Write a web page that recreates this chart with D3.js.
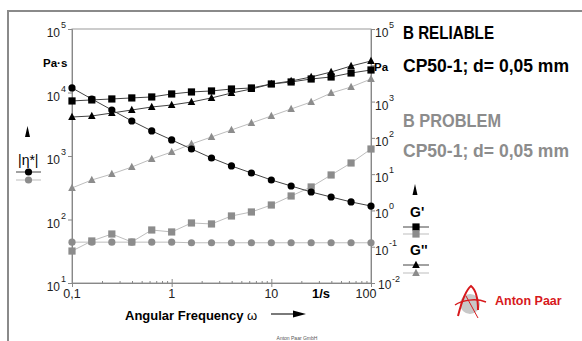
<!DOCTYPE html>
<html>
<head>
<meta charset="utf-8">
<script src="https://cdn.jsdelivr.net/npm/d3@7"></script>
<style>
  body { margin: 0; background: #fff; }
  svg { display: block; }
  text { font-family: "Liberation Sans", Arial, sans-serif; }
</style>
</head>
<body>
<div id="chart"></div>
<script>
// angular frequency, 1/s (5 points per decade)
const freq = [0.1, 0.158, 0.251, 0.398, 0.631, 1, 1.58, 2.51, 3.98, 6.31, 10, 15.8, 25.1, 39.8, 63.1, 100];

// |eta*| in Pa·s (left axis)
const etaReliable = [11800, 7900, 5300, 3560, 2480, 1790, 1290, 930, 697, 540, 419, 337, 271, 226, 189, 163];
const etaProblem  = [44, 44, 44, 44, 44, 44, 43, 43, 43, 43, 43, 43, 43, 43, 43, 43];

// G' and G'' in Pa (right axis)
const gPrimeReliable  = [1040, 1110, 1180, 1260, 1340, 1620, 1840, 1960, 2220, 2370, 3050, 3470, 4190, 4760, 6130, 7420];
const gDoubleReliable = [376, 401, 484, 586, 709, 805, 973, 1260, 1720, 2220, 3050, 3690, 4760, 6530, 9550, 13100];
const gPrimeProblem   = [0.076, 0.144, 0.224, 0.135, 0.289, 0.255, 0.451, 0.424, 0.703, 0.906, 1.41, 2.5, 4.43, 9.48, 20.3, 49.3];
const gDoubleProblem  = [4.16, 6.9, 10.1, 15.7, 26.2, 40.8, 67.8, 106, 165, 257, 401, 625, 973, 1720, 2520, 4190];

// tick labels
const xTicks = [0.1, 1, 10, 100];
const xTickLabels = ["0,1", "1", "10", "100"];
const leftExp = [1, 2, 3, 4, 5];
const rightExp = [-2, -1, 0, 1, 2, 3, 5];

const W = 582, H = 341;
const pLeft = 72, pRight = 371, pTop = 29, pBottom = 283;
const black = "#000", lineDark = "#444", gray = "#8c8c8c", lineGray = "#bdbdbd";

const svg = d3.select("#chart").append("svg").attr("width", W).attr("height", H);

// outer frame
svg.append("line").attr("x1", 8).attr("x2", W).attr("y1", 11).attr("y2", 11)
  .attr("stroke", "#8a8a8a").attr("stroke-width", 2);
svg.append("line").attr("x1", 8).attr("x2", 8).attr("y1", 10).attr("y2", H)
  .attr("stroke", "#8a8a8a").attr("stroke-width", 2);

const x = d3.scaleLog().domain([0.1, 100]).range([pLeft, pRight]);
const yL = d3.scaleLog().domain([10, 1e5]).range([pBottom, pTop]);
const yR = d3.scaleLog().domain([0.01, 1e5]).range([pBottom, pTop]);

// plot box
svg.append("rect").attr("x", pLeft).attr("y", pTop)
  .attr("width", pRight - pLeft).attr("height", pBottom - pTop)
  .attr("fill", "none").attr("stroke", "#999");

// axes
const xMinor = [];
for (let d = 0.1; d < 99; d *= 10) for (let k = 2; k <= 9; k++) xMinor.push(d * k);

svg.append("g").attr("transform", `translate(0,${pBottom})`)
  .call(d3.axisBottom(x).tickValues(xMinor).tickSize(-2).tickFormat(""))
  .call(g => g.select(".domain").attr("stroke", "#888"))
  .call(g => g.selectAll("line").attr("stroke", "#888"));
svg.append("g").attr("transform", `translate(0,${pBottom - 4})`)
  .call(d3.axisBottom(x).tickValues(xTicks).tickSize(8).tickFormat(""))
  .call(g => g.select(".domain").remove())
  .call(g => g.selectAll("line").attr("stroke", "#888"));

svg.append("g").attr("transform", `translate(${pLeft},0)`)
  .call(d3.axisLeft(yL).tickValues(leftExp.map(e => Math.pow(10, e))).tickSize(4).tickFormat(""))
  .call(g => g.select(".domain").attr("stroke", "#888"))
  .call(g => g.selectAll("line").attr("stroke", "#888"));
svg.append("g").attr("transform", `translate(${pRight},0)`)
  .call(d3.axisRight(yR).tickValues(d3.range(-2, 6).map(e => Math.pow(10, e))).tickSize(4).tickFormat(""))
  .call(g => g.select(".domain").attr("stroke", "#888"))
  .call(g => g.selectAll("line").attr("stroke", "#888"));

// tick labels
const lab = svg.append("g").attr("fill", "#222");
xTicks.forEach((v, i) => {
  lab.append("text").attr("x", i === 3 ? x(v) - 5 : x(v)).attr("y", 298).attr("text-anchor", "middle")
    .attr("font-size", 12.5).text(xTickLabels[i]);
});
leftExp.forEach(e => {
  const yy = yL(Math.pow(10, e));
  lab.append("text").attr("x", 60).attr("y", yy + 8).attr("text-anchor", "end")
    .attr("font-size", 12).text("10");
  lab.append("text").attr("x", 61).attr("y", yy - 1).attr("font-size", 9).text(e);
});
rightExp.forEach(e => {
  const yy = yR(Math.pow(10, e));
  const bx = e === -2 ? 378 : 375;
  lab.append("text").attr("x", bx).attr("y", e === -2 ? yy + 6 : yy + 8).attr("font-size", 12).text("10");
  lab.append("text").attr("x", bx + 14).attr("y", yy - 1).attr("font-size", 9).text(e);
});

// unit labels
svg.append("text").attr("x", 43).attr("y", 67).attr("font-size", 11.5).attr("font-weight", "bold").text("Pa·s");
svg.append("text").attr("x", 374).attr("y", 71).attr("font-size", 11.5).attr("font-weight", "bold").text("Pa");
svg.append("text").attr("x", 321).attr("y", 298).attr("text-anchor", "middle")
  .attr("font-size", 13).attr("font-weight", "bold").text("1/s");
svg.append("text").attr("x", 125).attr("y", 320).attr("font-size", 13).attr("font-weight", "bold")
  .text("Angular Frequency ")
  .append("tspan").attr("font-weight", "normal").text("ω");
svg.append("line").attr("x1", 271).attr("x2", 294).attr("y1", 314).attr("y2", 314)
  .attr("stroke", "#222").attr("stroke-width", 1.2);
svg.append("path").attr("d", "M293,310.5L306,314L293,317.5Z").attr("fill", "#000");

// markers
function marker(g, shape, cx, cy, color) {
  if (shape === "circle") {
    g.append("circle").attr("cx", cx).attr("cy", cy).attr("r", 3.6).attr("fill", color);
  } else if (shape === "square") {
    g.append("rect").attr("x", cx - 3.6).attr("y", cy - 3.6).attr("width", 7.2).attr("height", 7.2).attr("fill", color);
  } else {
    g.append("path").attr("d", `M${cx},${cy - 4.3}L${cx + 3.8},${cy + 3}L${cx - 3.8},${cy + 3}Z`).attr("fill", color);
  }
}

const series = [
  { vals: gPrimeProblem, y: yR, shape: "square", color: gray, line: lineGray },
  { vals: gDoubleProblem, y: yR, shape: "triangle", color: gray, line: lineGray },
  { vals: etaProblem, y: yL, shape: "circle", color: gray, line: lineGray },
  { vals: etaReliable, y: yL, shape: "circle", color: black, line: lineDark },
  { vals: gDoubleReliable, y: yR, shape: "triangle", color: black, line: lineDark },
  { vals: gPrimeReliable, y: yR, shape: "square", color: black, line: lineDark }
];

series.forEach(s => {
  const g = svg.append("g");
  const line = d3.line().x((d, i) => x(freq[i])).y(d => s.y(d));
  g.append("path").datum(s.vals).attr("d", line).attr("fill", "none")
    .attr("stroke", s.line).attr("stroke-width", 1);
  s.vals.forEach((v, i) => marker(g, s.shape, x(freq[i]), s.y(v), s.color));
});

// left legend
const arrowUp = (cx, cy) => `M${cx - 2.5},${cy + 5}L${cx},${cy - 6}L${cx + 2.5},${cy + 5}Z`;
svg.append("path").attr("d", arrowUp(27.5, 132)).attr("fill", "#000");
svg.append("text").attr("x", 18).attr("y", 165).attr("font-size", 14).text("|η*|");
[[172, black, lineDark], [180, gray, lineGray]].forEach(([yy, c, lc]) => {
  svg.append("line").attr("x1", 16).attr("x2", 41).attr("y1", yy).attr("y2", yy).attr("stroke", lc);
  marker(svg, "circle", 28.5, yy, c);
});

// right legend
svg.append("path").attr("d", arrowUp(415, 190)).attr("fill", "#000");
svg.append("text").attr("x", 410).attr("y", 217).attr("font-size", 14).attr("font-weight", "bold").text("G'");
[[227, black, lineDark], [234, gray, lineGray]].forEach(([yy, c, lc]) => {
  svg.append("line").attr("x1", 403).attr("x2", 429).attr("y1", yy).attr("y2", yy).attr("stroke", lc);
  marker(svg, "square", 416, yy, c);
});
svg.append("text").attr("x", 410).attr("y", 255).attr("font-size", 14).attr("font-weight", "bold").text("G''");
[[265, black, lineDark], [273, gray, lineGray]].forEach(([yy, c, lc]) => {
  svg.append("line").attr("x1", 403).attr("x2", 429).attr("y1", yy).attr("y2", yy).attr("stroke", lc);
  marker(svg, "triangle", 416, yy, c);
});

// sample titles
const titles = [
  { t: "B RELIABLE", y: 39, c: "#000", w: 91 },
  { t: "CP50-1; d= 0,05 mm", y: 72, c: "#000", w: 166 },
  { t: "B PROBLEM", y: 127, c: "#8c8c8c", w: 98 },
  { t: "CP50-1; d= 0,05 mm", y: 157, c: "#8c8c8c", w: 166 }
];
titles.forEach(d => {
  svg.append("text").attr("x", 403).attr("y", d.y).attr("fill", d.c)
    .attr("font-family", "Lato, 'Open Sans', sans-serif").attr("font-weight", "bold")
    .attr("font-size", 19).attr("textLength", d.w).attr("lengthAdjust", "spacingAndGlyphs")
    .text(d.t);
});

// logo
const logo = svg.append("g");
logo.append("ellipse").attr("cx", 470).attr("cy", 304).attr("rx", 10).attr("ry", 10).attr("fill", "#c8c8c8");
logo.append("path").attr("d", "M458,316C462,300 466,290 471,286C476,290 478,300 478,310")
  .attr("fill", "none").attr("stroke", "#d7191c").attr("stroke-width", 2);
logo.append("path").attr("d", "M455,305C462,300 476,298 486,302")
  .attr("fill", "none").attr("stroke", "#d7191c").attr("stroke-width", 1.5);
logo.append("path").attr("d", "M466,296L478,318")
  .attr("fill", "none").attr("stroke", "#d7191c").attr("stroke-width", 1);
logo.append("text").attr("x", 495).attr("y", 305).attr("fill", "#d7191c")
  .attr("font-size", 12.5).attr("font-weight", "bold").text("Anton Paar");

svg.append("text").attr("x", 297).attr("y", 340).attr("text-anchor", "middle")
  .attr("font-size", 5).attr("fill", "#555").text("Anton Paar GmbH");
</script>
</body>
</html>
